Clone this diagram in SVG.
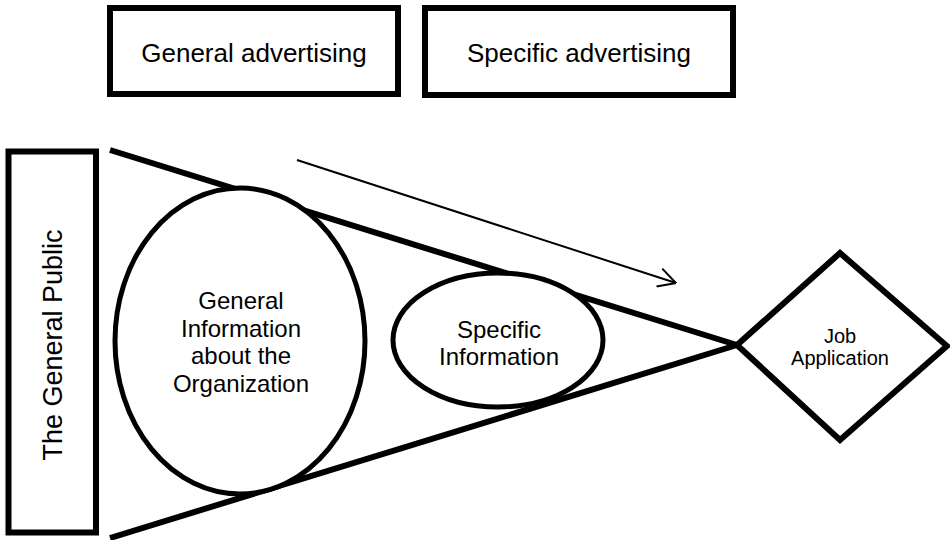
<svg xmlns="http://www.w3.org/2000/svg" width="950" height="540" viewBox="0 0 950 540">
  <style>
    .shape { fill: #fff; stroke: #000; stroke-width: 6; }
    .oval { fill: #fff; stroke: #000; stroke-width: 5; }
    .funnel { fill: none; stroke: #000; stroke-width: 6; stroke-linecap: butt; }
    .label { font-family: "Liberation Sans", Arial, sans-serif; font-size: 24px; fill: #000; text-anchor: middle; }
    .head { font-size: 26px; }
    .side { font-size: 27px; }
    .small { font-size: 20px; }
    .flow { fill: none; stroke: #000; stroke-width: 2; }
  </style>
  <defs>
    <marker id="open-arrow" viewBox="0 0 20 20" refX="19.5" refY="10" markerWidth="20" markerHeight="20" markerUnits="userSpaceOnUse" orient="auto">
      <path d="M2,0.6 L19.5,10 L2,19.4" fill="none" stroke="#000" stroke-width="2"/>
    </marker>
  </defs>

  <rect width="950" height="540" fill="#fff"/>

  <!-- funnel sides converging on the application diamond, plus the flow arrow -->
  <g id="connectors">
    <line class="funnel" x1="110" y1="150" x2="737" y2="345"/>
    <line class="funnel" x1="110" y1="538" x2="737" y2="345"/>
    <line class="flow" x1="297" y1="160" x2="676" y2="283" marker-end="url(#open-arrow)"/>
  </g>

  <g id="general-advertising">
    <rect class="shape" x="110" y="8" width="288" height="86"/>
    <text class="label head" x="254" y="62">General advertising</text>
  </g>

  <g id="specific-advertising">
    <rect class="shape" x="425" y="8" width="308" height="87"/>
    <text class="label head" x="579" y="62">Specific advertising</text>
  </g>

  <g id="general-public">
    <rect class="shape" x="8.5" y="151.5" width="87.5" height="381"/>
    <text class="label side" transform="translate(62,345) rotate(-90)">The General Public</text>
  </g>

  <g id="general-information">
    <ellipse class="oval" cx="240" cy="341" rx="125" ry="153"/>
    <text class="label" x="241" y="309">General</text>
    <text class="label" x="241" y="337">Information</text>
    <text class="label" x="241" y="364">about the</text>
    <text class="label" x="241" y="392">Organization</text>
  </g>

  <g id="specific-information">
    <ellipse class="oval" cx="498" cy="340" rx="105" ry="67"/>
    <text class="label" x="499" y="338">Specific</text>
    <text class="label" x="499" y="365">Information</text>
  </g>

  <g id="job-application">
    <polygon class="shape" points="737,345 840,253 947,346 840,440"/>
    <text class="label small" x="840" y="343">Job</text>
    <text class="label small" x="840" y="365">Application</text>
  </g>
</svg>
